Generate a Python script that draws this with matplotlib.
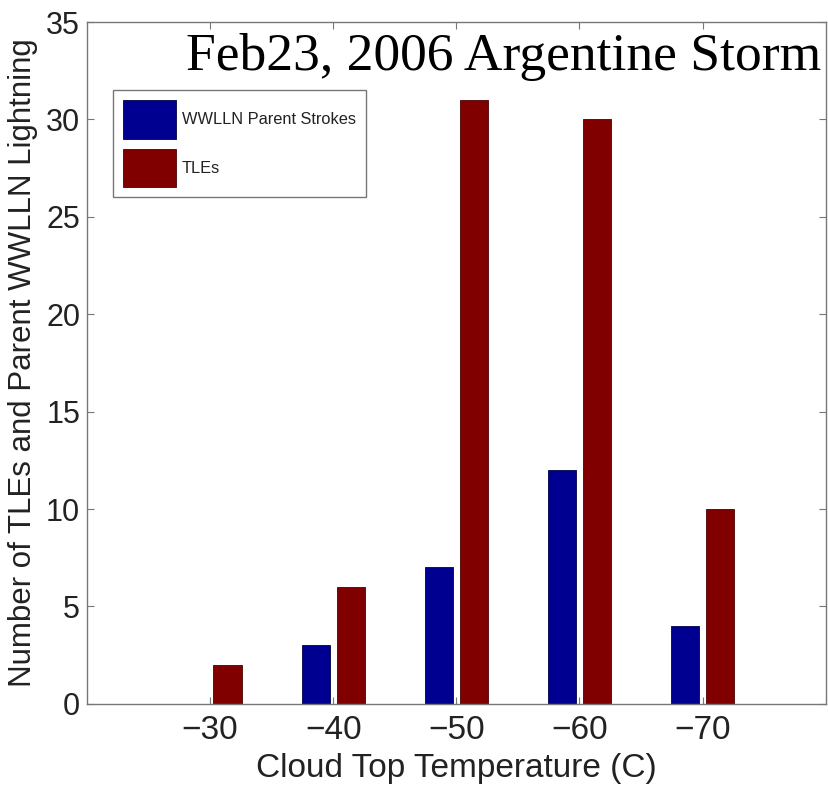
import matplotlib
matplotlib.use("Agg")
import matplotlib.pyplot as plt
import numpy as np

categories = ["\u221230", "\u221240", "\u221250", "\u221260", "\u221270"]
wwlln_parent = [0, 3, 7, 12, 4]
tles = [2, 6, 31, 30, 10]
yticks = [0, 5, 10, 15, 20, 25, 30, 35]

fig = plt.figure(figsize=(8.29, 7.89), dpi=100)
ax = fig.add_axes([0.105, 0.108, 0.891, 0.864])

x = np.arange(1, len(categories) + 1)
w = 0.23
off = 0.142
blue = "#000090"
red = "#800000"
ax.bar(x - off, wwlln_parent, w, color=blue, edgecolor="#00004a", linewidth=0.6,
       label="WWLLN Parent Strokes")
ax.bar(x + off, tles, w, color=red, edgecolor="#4a0000", linewidth=0.6, label="TLEs")

ax.set_xlim(0, 6)
ax.set_ylim(0, 35)
ax.set_xticks(x)
ax.set_xticklabels(categories)
ax.set_yticks(yticks)

for lab in ax.get_xticklabels():
    lab.set_fontfamily("Liberation Sans")
    lab.set_fontsize(24)
    lab.set_color("#222222")
for lab in ax.get_yticklabels():
    lab.set_fontfamily("Liberation Sans")
    lab.set_fontsize(22)
    lab.set_color("#222222")

ax.tick_params(direction="in", length=5, width=0.8, color="#777777",
               top=True, right=True)
ax.tick_params(axis="x", pad=8)
ax.tick_params(axis="y", pad=5)
for s in ax.spines.values():
    s.set_color("#777777")
    s.set_linewidth(1.0)

ax.set_xlabel("Cloud Top Temperature (C)", fontfamily="Liberation Sans",
              fontsize=24, color="#222222", labelpad=5)
ax.set_ylabel("Number of TLEs and Parent WWLLN Lightning",
              fontfamily="Liberation Sans", fontsize=22.5, color="#222222", labelpad=6)

fig.text(0.607, 0.911, "Feb23, 2006 Argentine Storm", ha="center", va="baseline",
         fontfamily="Liberation Serif", fontsize=38.5, color="black")

fs = 11.8
leg = ax.legend(loc="upper left", bbox_to_anchor=(0.035, 0.900),
                prop={"family": "Liberation Sans", "size": fs},
                frameon=True, fancybox=False, edgecolor="#555555",
                handlelength=3.25, handleheight=3.25, handletextpad=0.35,
                borderpad=0.6, labelspacing=0.6, borderaxespad=0.0)
leg.get_frame().set_linewidth(1.0)
for t in leg.get_texts():
    t.set_color("#222222")

fig.savefig("out.png", dpi=100)
